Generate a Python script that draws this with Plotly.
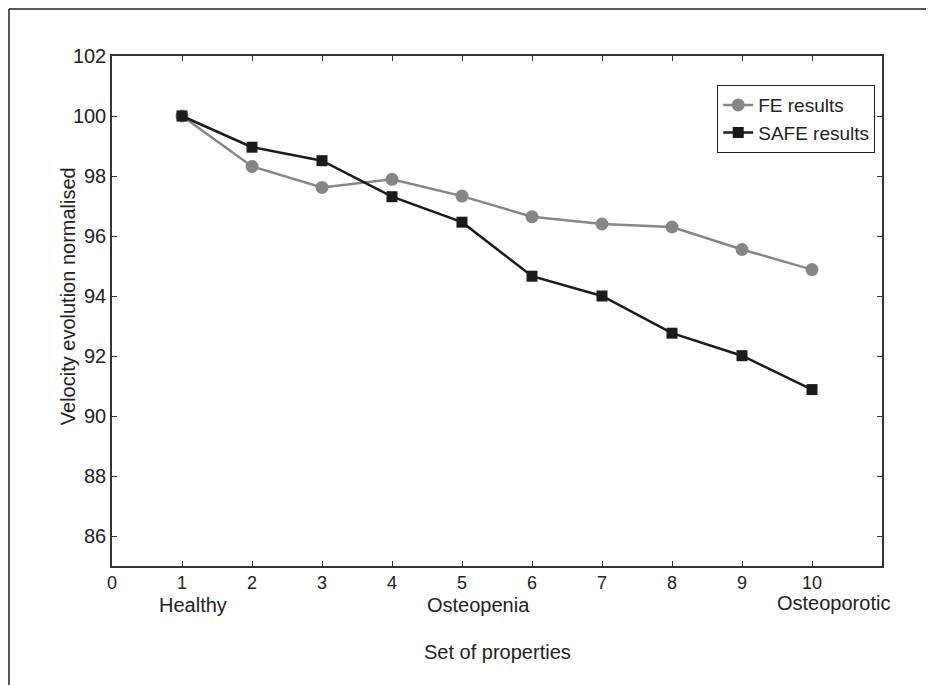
import plotly.graph_objects as go

x_sets = [1, 2, 3, 4, 5, 6, 7, 8, 9, 10]
fe_results = [100.0, 98.32, 97.62, 97.89, 97.33, 96.64, 96.40, 96.30, 95.55, 94.88]
safe_results = [100.0, 98.96, 98.51, 97.31, 96.46, 94.66, 94.00, 92.76, 92.01, 90.88]
x_ticks = [0, 1, 2, 3, 4, 5, 6, 7, 8, 9, 10]
y_ticks = [86, 88, 90, 92, 94, 96, 98, 100, 102]
stage_labels = ["Healthy", "Osteopenia", "Osteoporotic"]
stage_pos = [1.157, 5.23, 10.31]

FONT = "Liberation Sans, Arial, sans-serif"
TXT = "#222222"

fig = go.Figure()
fig.add_trace(go.Scatter(
    x=x_sets, y=fe_results, name="FE results", mode="lines+markers",
    line=dict(color="#868686", width=2.5),
    marker=dict(symbol="circle", size=13, color="#868686"),
))
fig.add_trace(go.Scatter(
    x=x_sets, y=safe_results, name="SAFE results", mode="lines+markers",
    line=dict(color="#1c1a1b", width=2.5),
    marker=dict(symbol="square", size=11, color="#1c1a1b"),
))

axis_common = dict(
    showline=True, linecolor="#333333", linewidth=1.5, mirror="ticks",
    ticks="inside", ticklen=5, tickwidth=1, tickcolor="#333333",
    showgrid=False, zeroline=False,
)

fig.update_layout(
    width=926, height=677,
    margin=dict(l=104, r=52, t=48, b=119),
    paper_bgcolor="white", plot_bgcolor="white",
    font=dict(family=FONT, size=19, color=TXT),
    xaxis=dict(range=[0, 11], tickvals=x_ticks, ticktext=[str(v) for v in x_ticks],
               tickfont=dict(family=FONT, size=18, color=TXT), **axis_common),
    yaxis=dict(range=[85, 102], tickvals=y_ticks, ticktext=[str(v) for v in y_ticks],
               tickfont=dict(family=FONT, size=20, color=TXT), **axis_common),
    showlegend=True,
    legend=dict(
        x=0.786, y=0.943, xanchor="left", yanchor="top",
        bgcolor="white", bordercolor="#222222", borderwidth=1,
        font=dict(family=FONT, size=19, color=TXT),
        tracegroupgap=0, itemwidth=30,
    ),
)

for lab, pos, yy in zip(stage_labels, stage_pos, [-39, -39, -37]):
    fig.add_annotation(x=pos, y=0, xref="x", yref="paper", yshift=yy,
                       text=lab, showarrow=False, yanchor="middle",
                       font=dict(family=FONT, size=20, color=TXT))

fig.add_annotation(x=0.5, y=0, xref="paper", yref="paper", yshift=-86,
                   text="Set of properties", showarrow=False, yanchor="middle",
                   font=dict(family=FONT, size=20, color=TXT))
fig.add_annotation(x=0, y=0.529, xref="paper", yref="paper", xshift=-44,
                   text="Velocity evolution normalised", showarrow=False,
                   textangle=-90, xanchor="center", yanchor="middle",
                   font=dict(family=FONT, size=20, color=TXT))

# outer figure frame (left and top edges visible)
fig.add_shape(type="line", xref="paper", yref="paper",
              x0=-0.1338, x1=-0.1338, y0=-0.25, y1=1.092,
              line=dict(color="#222222", width=1.5))
fig.add_shape(type="line", xref="paper", yref="paper",
              x0=-0.1338, x1=1.1, y0=1.092, y1=1.092,
              line=dict(color="#222222", width=1.5))

fig.write_html("out.html")
